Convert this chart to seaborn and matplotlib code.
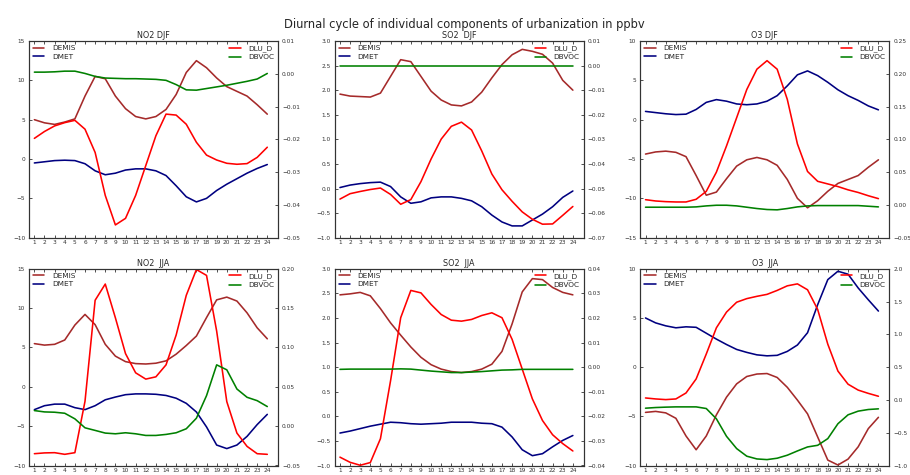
import matplotlib
matplotlib.use("Agg")
import matplotlib.pyplot as plt
from matplotlib.ticker import MultipleLocator
import seaborn as sns

hours = list(range(1, 25))
hour_labels = [str(h) for h in hours]

titles = ["NO2 DJF", "SO2  DJF", "O3 DJF", "NO2  JJA", "SO2  JJA", "O3  JJA"]

# ---- NO2 DJF ----
no2_djf_demis = [5.0, 4.6, 4.4, 4.7, 5.1, 8.0, 10.5, 10.2, 8.0, 6.4, 5.4, 5.1,
                 5.4, 6.3, 8.2, 11.0, 12.5, 11.6, 10.3, 9.2, 8.6, 8.0, 6.9, 5.7]
no2_djf_dmet = [-0.5, -0.35, -0.2, -0.15, -0.2, -0.6, -1.5, -2.0, -1.8, -1.4, -1.25, -1.25,
                -1.5, -2.1, -3.4, -4.8, -5.45, -5.0, -4.0, -3.2, -2.5, -1.8, -1.2, -0.7]
no2_djf_dlu = [-0.0197, -0.0176, -0.0159, -0.0149, -0.0142, -0.0169, -0.024, -0.0371,
               -0.0461, -0.0441, -0.0371, -0.028, -0.0189, -0.0123, -0.0126, -0.0154,
               -0.0209, -0.0248, -0.0263, -0.0273, -0.0276, -0.0274, -0.0255, -0.0224]
no2_djf_dbvoc = [0.0005, 0.0005, 0.0006, 0.0008, 0.0008, 0.0001, -0.0008, -0.0013,
                 -0.0014, -0.0015, -0.0015, -0.0016, -0.0017, -0.002, -0.0033, -0.0049,
                 -0.005, -0.0045, -0.004, -0.0035, -0.0029, -0.0023, -0.0016, 0.0001]

# ---- SO2 DJF ----
so2_djf_demis = [1.92, 1.88, 1.87, 1.86, 1.94, 2.28, 2.62, 2.58, 2.28, 1.98, 1.80, 1.70,
                 1.68, 1.76, 1.96, 2.25, 2.52, 2.72, 2.83, 2.79, 2.73, 2.55, 2.20, 2.0]
so2_djf_dmet = [0.02, 0.07, 0.10, 0.12, 0.13, 0.04, -0.17, -0.30, -0.27, -0.19, -0.17, -0.17,
                -0.20, -0.25, -0.37, -0.54, -0.68, -0.76, -0.76, -0.64, -0.52, -0.37, -0.18, -0.05]
so2_djf_dlu = [-0.0543, -0.0521, -0.0512, -0.0504, -0.0498, -0.0524, -0.0564, -0.0545,
               -0.0472, -0.038, -0.0299, -0.0247, -0.023, -0.0262, -0.0347, -0.0441,
               -0.0505, -0.0552, -0.0595, -0.0625, -0.0645, -0.0644, -0.0609, -0.0573]
so2_djf_dbvoc = [-0.0001, -0.0001, -0.0001, -0.0001, -0.0001, -0.0001, -0.0001, -0.0001,
                 -0.0001, -0.0001, -0.0001, -0.0001, -0.0001, -0.0001, -0.0001, -0.0001,
                 -0.0001, -0.0001, -0.0001, -0.0001, -0.0001, -0.0001, -0.0001, -0.0001]

# ---- O3 DJF ----
o3_djf_demis = [-4.37, -4.1, -4.0, -4.15, -4.7, -7.1, -9.6, -9.2, -7.5, -5.9, -5.1, -4.8,
                -5.1, -5.8, -7.6, -10.0, -11.2, -10.3, -9.1, -8.1, -7.6, -7.1, -6.05, -5.1]
o3_djf_dmet = [1.05, 0.9, 0.75, 0.65, 0.7, 1.3, 2.2, 2.55, 2.35, 2.0, 1.9, 2.0,
               2.35, 3.05, 4.3, 5.7, 6.2, 5.6, 4.75, 3.8, 3.05, 2.45, 1.75, 1.25]
o3_djf_dlu = [0.008, 0.006, 0.005, 0.0045, 0.0045, 0.0086, 0.0207, 0.05, 0.09, 0.133,
              0.176, 0.207, 0.22, 0.207, 0.161, 0.093, 0.051, 0.036, 0.032, 0.028,
              0.023, 0.019, 0.014, 0.0096]
o3_djf_dbvoc = [-0.0035, -0.0035, -0.0035, -0.0035, -0.0035, -0.003, -0.0015, -0.0005,
                -0.0005, -0.0015, -0.0035, -0.0055, -0.007, -0.0075, -0.0055, -0.003,
                -0.0015, -0.001, -0.001, -0.001, -0.001, -0.001, -0.002, -0.003]

# ---- NO2 JJA ----
no2_jja_demis = [5.49, 5.3, 5.4, 5.95, 7.85, 9.2, 7.9, 5.4, 3.9, 3.2, 2.95, 2.9,
                 3.0, 3.3, 4.15, 5.25, 6.45, 8.8, 11.05, 11.4, 10.9, 9.4, 7.5, 6.1]
no2_jja_dmet = [-2.9, -2.4, -2.2, -2.2, -2.65, -2.9, -2.4, -1.65, -1.3, -1.0, -0.9, -0.9,
                -0.95, -1.1, -1.45, -2.1, -3.2, -5.1, -7.4, -7.85, -7.4, -6.3, -4.8, -3.5]
no2_jja_dlu = [-0.035, -0.034, -0.0337, -0.0358, -0.0337, 0.0316, 0.16, 0.1806, 0.1377,
               0.0922, 0.0678, 0.0598, 0.0627, 0.0779, 0.1158, 0.1663, 0.199, 0.1916,
               0.1208, 0.0312, -0.0088, -0.0257, -0.035, -0.0358]
no2_jja_dbvoc = [0.0198, 0.0181, 0.0177, 0.0164, 0.0093, -0.0021, -0.0054, -0.0088,
                 -0.0097, -0.0084, -0.0097, -0.0118, -0.0118, -0.0105, -0.0084, -0.0033,
                 0.0101, 0.0388, 0.0779, 0.0716, 0.0472, 0.0367, 0.0324, 0.0249]

# ---- SO2 JJA ----
so2_jja_demis = [2.47, 2.49, 2.52, 2.45, 2.19, 1.9, 1.65, 1.41, 1.2, 1.05, 0.96, 0.91,
                 0.89, 0.91, 0.96, 1.06, 1.32, 1.88, 2.53, 2.8, 2.78, 2.62, 2.52, 2.47]
so2_jja_dmet = [-0.34, -0.30, -0.25, -0.2, -0.16, -0.12, -0.13, -0.15, -0.16, -0.15, -0.14, -0.12,
                -0.12, -0.12, -0.14, -0.15, -0.22, -0.42, -0.68, -0.80, -0.76, -0.62, -0.49, -0.39]
so2_jja_dlu = [-0.0366, -0.0387, -0.0399, -0.0388, -0.0291, -0.0055, 0.0201, 0.0312,
               0.0302, 0.0255, 0.0214, 0.0191, 0.0187, 0.0194, 0.021, 0.0221, 0.0201,
               0.0113, -0.0008, -0.0129, -0.0217, -0.0275, -0.0311, -0.0341]
so2_jja_dbvoc = [-0.0009, -0.0008, -0.0008, -0.0008, -0.0008, -0.0008, -0.0007, -0.0008,
                 -0.0012, -0.0016, -0.0019, -0.0022, -0.0022, -0.002, -0.0018, -0.0015,
                 -0.0012, -0.0011, -0.0009, -0.0009, -0.0009, -0.0009, -0.0009, -0.0009]

# ---- O3 JJA ----
o3_jja_demis = [-4.6, -4.5, -4.65, -5.2, -7.0, -8.4, -7.0, -4.85, -3.05, -1.7, -0.95, -0.7,
                -0.65, -1.05, -2.05, -3.35, -4.75, -7.1, -9.45, -9.95, -9.35, -8.1, -6.25, -5.1]
o3_jja_dmet = [5.0, 4.5, 4.2, 4.0, 4.1, 4.05, 3.45, 2.85, 2.3, 1.8, 1.5, 1.25,
               1.15, 1.2, 1.6, 2.25, 3.5, 6.35, 8.9, 9.75, 9.45, 8.05, 6.85, 5.7]
o3_jja_dlu = [0.03, 0.015, 0.005, 0.015, 0.106, 0.32, 0.70, 1.10, 1.34, 1.49, 1.545, 1.58,
              1.61, 1.67, 1.74, 1.77, 1.68, 1.38, 0.85, 0.44, 0.24, 0.15, 0.10, 0.056]
o3_jja_dbvoc = [-0.126, -0.116, -0.11, -0.106, -0.106, -0.106, -0.131, -0.288, -0.555,
                -0.742, -0.858, -0.9, -0.91, -0.889, -0.843, -0.778, -0.717, -0.692,
                -0.59, -0.363, -0.227, -0.171, -0.146, -0.136]

left_series = [
    (no2_djf_demis, no2_djf_dmet), (so2_djf_demis, so2_djf_dmet), (o3_djf_demis, o3_djf_dmet),
    (no2_jja_demis, no2_jja_dmet), (so2_jja_demis, so2_jja_dmet), (o3_jja_demis, o3_jja_dmet),
]
right_series = [
    (no2_djf_dlu, no2_djf_dbvoc), (so2_djf_dlu, so2_djf_dbvoc), (o3_djf_dlu, o3_djf_dbvoc),
    (no2_jja_dlu, no2_jja_dbvoc), (so2_jja_dlu, so2_jja_dbvoc), (o3_jja_dlu, o3_jja_dbvoc),
]

# axis settings (limits, tick steps)
left_lims = [(-10, 15), (-1, 3), (-15, 10), (-10, 15), (-1, 3), (-10, 10)]
left_steps = [5, 0.5, 5, 5, 0.5, 5]
right_lims = [(-0.05, 0.01), (-0.07, 0.01), (-0.05, 0.25), (-0.05, 0.20), (-0.04, 0.04), (-1.0, 2.0)]
right_steps = [0.01, 0.01, 0.05, 0.05, 0.01, 0.5]

sns.set_style("ticks")
plt.rcParams.update({
    "font.family": ["DejaVu Sans"],
    "xtick.direction": "in",
    "ytick.direction": "in",
    "xtick.top": True,
    "xtick.major.size": 2.5,
    "ytick.major.size": 2.5,
    "xtick.major.width": 0.6,
    "ytick.major.width": 0.6,
    "xtick.major.pad": 2,
    "ytick.major.pad": 3,
    "axes.linewidth": 0.8,
    "axes.edgecolor": "#333333",
    "xtick.color": "#333333",
    "ytick.color": "#333333",
    "xtick.labelsize": 4.2,
    "ytick.labelsize": 4.2,
})

fig, axes = plt.subplots(2, 3, figsize=(9.1, 4.75), dpi=100)
fig.subplots_adjust(left=0.0322, right=0.977, top=0.9137, bottom=0.0200,
                    wspace=0.229, hspace=0.158)

c_demis, c_dmet, c_dlu, c_dbvoc = "#a52a2a", "#000080", "#ff0000", "#008000"
lw = 1.15

for i, ax in enumerate(axes.flat):
    demis, dmet = left_series[i]
    dlu, dbvoc = right_series[i]
    sns.lineplot(x=hours, y=demis, ax=ax, color=c_demis, lw=lw, label="DEMIS")
    sns.lineplot(x=hours, y=dmet, ax=ax, color=c_dmet, lw=lw, label="DMET")
    ax2 = ax.twinx()
    sns.lineplot(x=hours, y=dlu, ax=ax2, color=c_dlu, lw=lw, label="DLU_D")
    sns.lineplot(x=hours, y=dbvoc, ax=ax2, color=c_dbvoc, lw=lw, label="DBVOC")

    ax.set_xlim(0.5, 25.05)
    ax.set_xticks(hours)
    ax.set_xticklabels(hour_labels)
    ax.set_ylim(*left_lims[i])
    ax.yaxis.set_major_locator(MultipleLocator(left_steps[i]))
    ax2.set_ylim(*right_lims[i])
    ax2.yaxis.set_major_locator(MultipleLocator(right_steps[i]))
    ax.set_xlabel("")
    ax.set_ylabel("")
    ax2.set_ylabel("")
    ax.set_title(titles[i], fontsize=5.8, pad=2)

    for s in ax2.spines.values():
        s.set_linewidth(0.8)
        s.set_edgecolor("#333333")

    legkw = dict(frameon=False, fontsize=5.3, handlelength=1.5, handletextpad=1.0,
                 borderaxespad=0.25, borderpad=0.3, labelspacing=0.3)
    ax.legend(loc="upper left", **legkw)
    ax2.legend(loc="upper right", **legkw)

fig.suptitle("Diurnal cycle of individual components of urbanization in ppbv",
             fontsize=8.3, y=0.962, x=0.51)

fig.savefig("out.png", dpi=100, facecolor="white")
